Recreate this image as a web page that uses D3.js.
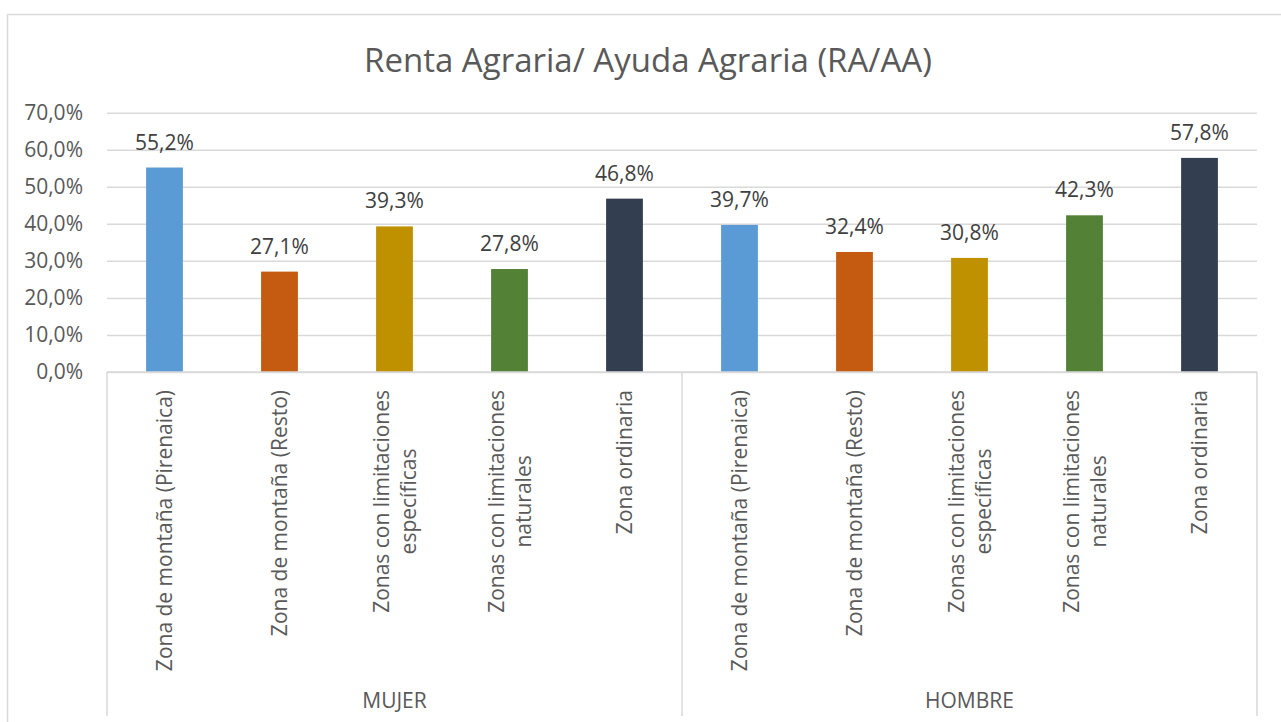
<!DOCTYPE html>
<html>
<head>
<meta charset="utf-8">
<script src="https://cdn.jsdelivr.net/npm/d3@7"></script>
<style>
  html, body { margin: 0; padding: 0; background: #fff; }
  svg { display: block; font-family: "Open Sans", sans-serif; }
</style>
</head>
<body>
<svg id="chart" width="1281" height="722"></svg>
<script>
const title = "Renta Agraria/ Ayuda Agraria (RA/AA)";
const groups = ["MUJER", "HOMBRE"];
const zones = [
  ["Zona de montaña (Pirenaica)"],
  ["Zona de montaña (Resto)"],
  ["Zonas con limitaciones", "específicas"],
  ["Zonas con limitaciones", "naturales"],
  ["Zona ordinaria"]
];
const mujerValues = [55.2, 27.1, 39.3, 27.8, 46.8];
const hombreValues = [39.7, 32.4, 30.8, 42.3, 57.8];
const yTicks = [0, 10, 20, 30, 40, 50, 60, 70];
const zoneColors = ["#5B9BD5", "#C55A11", "#BF9000", "#538135", "#333F50"];

const seriesByGroup = { "MUJER": mujerValues, "HOMBRE": hombreValues };
const data = [];
groups.forEach(g => zones.forEach((z, i) => data.push({ group: g, zone: i, value: seriesByGroup[g][i] })));

const svg = d3.select("#chart");
const plotLeft = 107, plotRight = 1257, plotTop = 112.7, plotBottom = 372;
const textColor = "#595959";
const fs = 21;
const fmt = v => v.toFixed(1).replace(".", ",") + "%";

// outer border
svg.append("rect").attr("x", 7.5).attr("y", 14.5).attr("width", 1290).attr("height", 730)
  .attr("fill", "none").attr("stroke", "#D9D9D9").attr("stroke-width", 1.5);

const y = d3.scaleLinear().domain([0, 70]).range([plotBottom, plotTop]);
const x0 = d3.scaleBand().domain(groups).range([plotLeft, plotRight]).padding(0);
const x1 = d3.scaleBand().domain(d3.range(zones.length)).range([0, x0.bandwidth()])
  .paddingInner(0.68).paddingOuter(0.34);

// title
svg.append("text").attr("x", 648).attr("y", 72).attr("text-anchor", "middle")
  .attr("font-size", 33).attr("fill", textColor).text(title);

// gridlines + y tick labels
const yAxis = d3.axisLeft(y).tickValues(yTicks).tickFormat(fmt).tickSize(-(plotRight - plotLeft)).tickPadding(24);
const gy = svg.append("g").attr("transform", `translate(${plotLeft},0)`).call(yAxis);
gy.select(".domain").remove();
gy.selectAll(".tick line").attr("stroke", "#D9D9D9").attr("stroke-width", 1.5);
gy.selectAll(".tick text").attr("font-size", fs).attr("fill", textColor)
  .attr("font-family", "Open Sans, sans-serif");

// bars
svg.append("g").selectAll("rect").data(data).join("rect")
  .attr("x", d => x0(d.group) + x1(d.zone))
  .attr("width", x1.bandwidth())
  .attr("y", d => y(d.value))
  .attr("height", d => y(0) - y(d.value))
  .attr("fill", d => zoneColors[d.zone]);

// data labels
svg.append("g").selectAll("text").data(data).join("text")
  .attr("x", d => x0(d.group) + x1(d.zone) + x1.bandwidth() / 2)
  .attr("y", d => y(d.value) - 18)
  .attr("text-anchor", "middle")
  .attr("font-size", fs).attr("fill", "#404040")
  .text(d => fmt(d.value));

// category axis
const axisG = svg.append("g");
axisG.append("line").attr("x1", plotLeft).attr("x2", plotRight).attr("y1", plotBottom).attr("y2", plotBottom)
  .attr("stroke", "#D9D9D9").attr("stroke-width", 1.5);
const sepX = [plotLeft, ...groups.map(g => x0(g) + x0.bandwidth())];
axisG.selectAll("line.sep").data(sepX).join("line").attr("class", "sep")
  .attr("x1", d => d).attr("x2", d => d).attr("y1", plotBottom).attr("y2", 716)
  .attr("stroke", "#D9D9D9").attr("stroke-width", 1.5);

// rotated category labels
const labelTop = 390;
const lineH = 27;
data.forEach(d => {
  const cx = x0(d.group) + x1(d.zone) + x1.bandwidth() / 2;
  const lines = zones[d.zone];
  const g = svg.append("g");
  const texts = lines.map(l => g.append("text").attr("font-size", fs).attr("fill", textColor)
    .attr("text-anchor", "middle").text(l));
  const maxLen = d3.max(texts, t => t.node().getComputedTextLength());
  const cy = labelTop + maxLen / 2;
  texts.forEach((t, i) => {
    const off = (i - (lines.length - 1) / 2) * lineH;
    const lx = cx + off + 7.5;
    t.attr("transform", `translate(${lx},${cy}) rotate(-90)`);
  });
});

// group labels
svg.append("g").selectAll("text").data(groups).join("text")
  .attr("x", g => x0(g) + x0.bandwidth() / 2)
  .attr("y", 708)
  .attr("text-anchor", "middle").attr("font-size", fs).attr("fill", textColor)
  .text(g => g);
</script>
</body>
</html>
